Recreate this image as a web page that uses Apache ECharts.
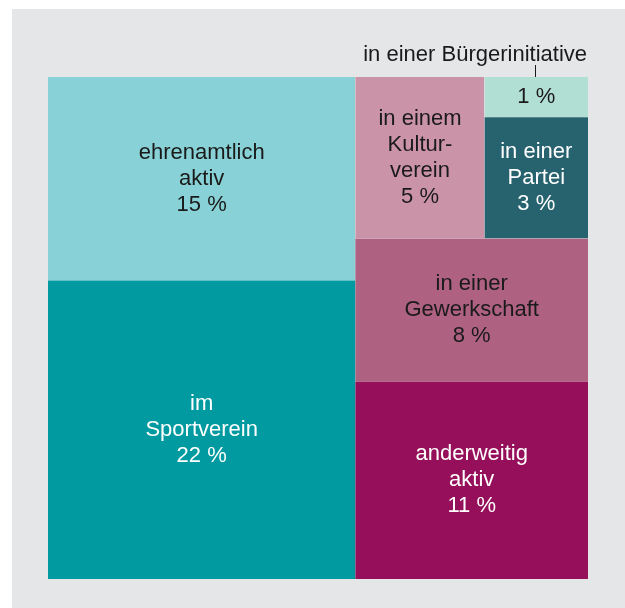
<!DOCTYPE html>
<html>
<head>
<meta charset="utf-8">
<script src="https://cdn.jsdelivr.net/npm/echarts@6/dist/echarts.min.js"></script>
<style>
  html, body { margin: 0; padding: 0; background: #ffffff; }
  #chart { width: 625px; height: 608px; }
</style>
</head>
<body>
<div id="chart"></div>
<script>
// Forms of civic engagement, share in percent
const categories = [
  'ehrenamtlich\naktiv',
  'im\nSportverein',
  'in einem\nKultur-\nverein',
  'in einer Bürgerinitiative',
  'in einer\nPartei',
  'in einer\nGewerkschaft',
  'anderweitig\naktiv'
];
const values = [15, 22, 5, 1, 3, 8, 11];

// Cell fills and label colours, by category index
const fills = ['#88d1d6', '#009aa0', '#cb93a8', '#b2dfd4', '#27636f', '#ae6180', '#960f5a'];
const inks  = ['#1a1a1a', '#ffffff', '#1a1a1a', '#1a1a1a', '#ffffff', '#1a1a1a', '#ffffff'];

// Index of the category whose name sits above the plot
const OUTSIDE = 3;

// Plot box
const BOX = { left: 48, top: 77, width: 540, height: 502 };
const FONT = 'Liberation Sans';
const SIZE = 22;

function leaf(i) {
  return {
    name: categories[i],
    value: values[i],
    itemStyle: { color: fills[i] },
    label: { color: inks[i] }
  };
}

// Nested grouping that yields the slice layout
const tree = [
  { name: 'g1', children: [leaf(0), leaf(1)] },
  { name: 'g2', children: [
      { name: 'g3', children: [leaf(2), { name: 'g4', children: [leaf(OUTSIDE), leaf(4)] }] },
      leaf(5),
      leaf(6)
  ] }
];

// Horizontal centre of the small cell, for the leader line
const total = values.reduce((a, b) => a + b, 0);
const rightShare = (values[2] + values[3] + values[4] + values[5] + values[6]) / total;
const topRow = values[2] + values[3] + values[4];
const subW = BOX.width * rightShare * (values[3] + values[4]) / topRow;
const markX = Math.round(BOX.left + BOX.width - subW / 2) - 0.5;

const flat = { borderWidth: 0, gapWidth: 0 };

const chart = echarts.init(document.getElementById('chart'), null, { renderer: 'canvas' });
chart.setOption({
  animation: false,
  graphic: [
    { type: 'rect', z: -10, silent: true,
      shape: { x: 12, y: 9, width: 613, height: 599 },
      style: { fill: '#e5e6e8' } },
    { type: 'text', silent: true,
      x: BOX.left + BOX.width - 1, y: 55,
      style: { text: categories[OUTSIDE], font: SIZE + 'px "' + FONT + '"',
               fill: '#1a1a1a', align: 'right', verticalAlign: 'middle' } },
    { type: 'line', silent: true,
      shape: { x1: markX, y1: 65, x2: markX, y2: BOX.top },
      style: { stroke: '#1a1a1a', lineWidth: 1 } }
  ],
  series: [{
    type: 'treemap',
    left: BOX.left, top: BOX.top, width: BOX.width, height: BOX.height,
    roam: false,
    nodeClick: false,
    silent: true,
    sort: false,
    squareRatio: 1,
    breadcrumb: { show: false },
    itemStyle: flat,
    levels: [{ itemStyle: flat }, { itemStyle: flat }, { itemStyle: flat }, { itemStyle: flat }],
    upperLabel: { show: false },
    label: {
      show: true,
      position: 'inside',
      align: 'center',
      verticalAlign: 'middle',
      fontFamily: FONT,
      fontSize: SIZE,
      lineHeight: 26,
      formatter: function (p) {
        const v = p.value + ' %';
        return p.name === categories[OUTSIDE] ? v : p.name + '\n' + v;
      }
    },
    emphasis: { disabled: true },
    data: tree
  }]
});
</script>
</body>
</html>
